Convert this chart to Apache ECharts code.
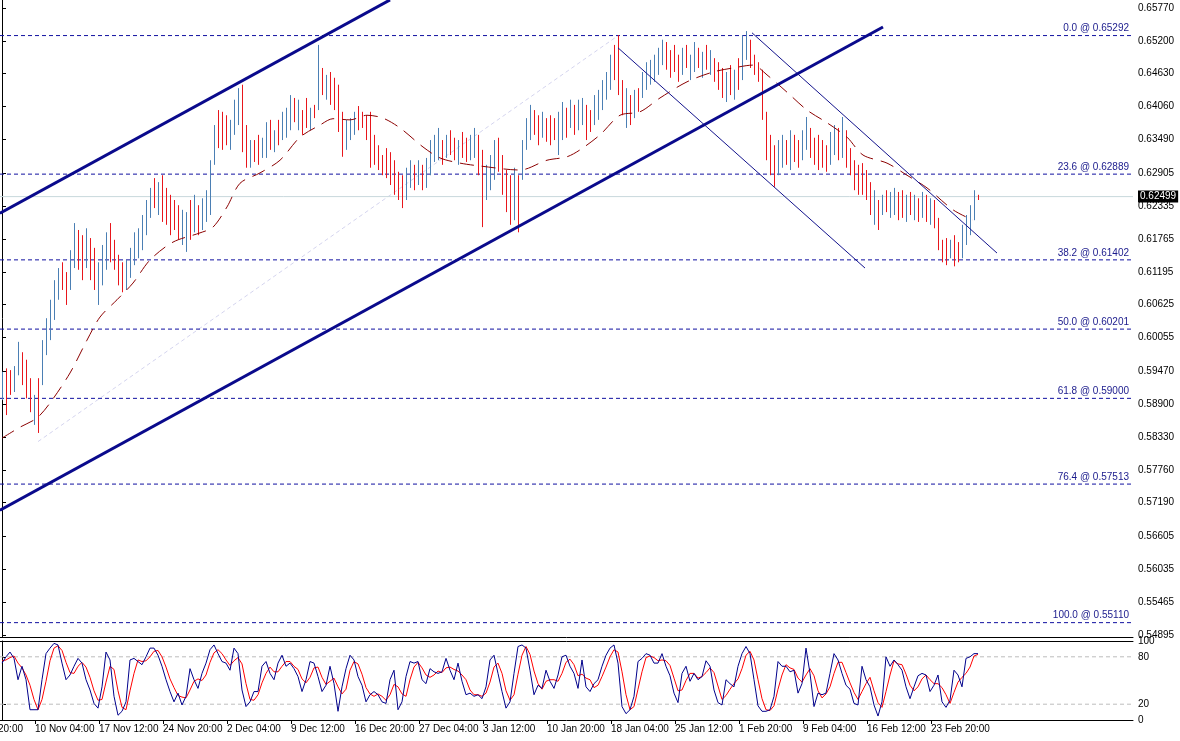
<!DOCTYPE html>
<html><head><meta charset="utf-8">
<script src="https://cdn.jsdelivr.net/npm/echarts@6/dist/echarts.min.js"></script>
<style>html,body{margin:0;padding:0;background:#fff}#c{width:1180px;height:741px}</style>
</head><body><div id="c"></div>
<script>
const highs=[.5946,.5952,.5949,.5956,.5998,.5980,.5967,.5935,.5906,.5935,
.6001,.6039,.6071,.6105,.6126,.6136,.6119,.6157,.6204,.6192,
.6183,.6195,.6178,.6161,.6136,.6166,.6188,.6204,.6175,.6149,
.6136,.6140,.6161,.6188,.6195,.6218,.6244,.6265,.6282,.6275,
.6287,.6265,.6253,.6244,.6235,.6227,.6223,.6244,.6253,.6235,
.6247,.6261,.6313,.6374,.6400,.6397,.6391,.6383,.6418,.6438,
.6444,.6374,.6348,.6348,.6357,.6352,.6379,.6383,.6365,.6383,
.6397,.6404,.6426,.6421,.6418,.6400,.6421,.6404,.6409,.6513,
.6473,.6461,.6466,.6456,.6444,.6397,.6383,.6386,.6397,.6407,
.6397,.6391,.6397,.6357,.6339,.6322,.6334,.6327,.6313,.6293,
.6287,.6300,.6313,.6305,.6313,.6305,.6317,.6348,.6357,.6369,
.6348,.6357,.6365,.6352,.6348,.6362,.6352,.6357,.6369,.6357,
.6331,.6305,.6322,.6348,.6352,.6322,.6296,.6287,.6300,.6287,
.6348,.6386,.6409,.6400,.6391,.6397,.6386,.6391,.6386,.6397,
.6414,.6404,.6418,.6409,.6418,.6421,.6409,.6400,.6426,.6435,
.6452,.6466,.6496,.6513,.6530,.6452,.6438,.6426,.6435,.6438,
.6466,.6483,.6487,.6496,.6508,.6522,.6518,.6504,.6513,.6496,
.6508,.6513,.6496,.6518,.6508,.6501,.6513,.6504,.6490,.6483,
.6473,.6466,.6478,.6470,.6490,.6530,.6537,.6522,.6496,.6483,
.6470,.6397,.6357,.6339,.6348,.6357,.6348,.6365,.6357,.6348,
.6365,.6388,.6369,.6352,.6357,.6348,.6339,.6362,.6374,.6369,
.6388,.6365,.6334,.6313,.6305,.6308,.6296,.6275,.6261,.6244,
.6253,.6261,.6258,.6265,.6258,.6261,.6253,.6258,.6253,.6247,
.6258,.6253,.6247,.6244,.6213,.6175,.6178,.6175,.6183,.6171,
.6201,.6218,.6235,.6261,.6253];
const lows=[.5897,.5871,.5906,.5911,.5940,.5923,.5900,.5876,.5854,.5840,
.5923,.5975,.6001,.6036,.6071,.6088,.6062,.6088,.6126,.6123,
.6105,.6126,.6105,.6088,.6062,.6096,.6123,.6136,.6123,.6096,
.6084,.6088,.6109,.6131,.6143,.6157,.6183,.6213,.6230,.6218,
.6206,.6201,.6183,.6192,.6175,.6166,.6154,.6175,.6188,.6183,
.6192,.6206,.6218,.6305,.6334,.6331,.6339,.6331,.6357,.6374,
.6327,.6300,.6300,.6310,.6305,.6317,.6317,.6331,.6327,.6339,
.6348,.6352,.6365,.6379,.6365,.6357,.6369,.6365,.6386,.6400,
.6426,.6418,.6409,.6400,.6362,.6319,.6331,.6348,.6357,.6365,
.6369,.6348,.6300,.6305,.6296,.6287,.6282,.6270,.6253,.6244,
.6230,.6244,.6265,.6261,.6270,.6261,.6265,.6287,.6310,.6313,
.6305,.6317,.6322,.6313,.6305,.6317,.6310,.6313,.6317,.6287,
.6197,.6244,.6261,.6279,.6293,.6253,.6223,.6201,.6209,.6188,
.6279,.6331,.6348,.6357,.6339,.6352,.6345,.6339,.6348,.6322,
.6348,.6352,.6369,.6357,.6365,.6374,.6348,.6362,.6374,.6383,
.6400,.6418,.6435,.6452,.6426,.6391,.6369,.6374,.6386,.6397,
.6421,.6435,.6444,.6449,.6461,.6478,.6470,.6456,.6466,.6449,
.6461,.6473,.6452,.6466,.6473,.6456,.6470,.6461,.6449,.6435,
.6421,.6414,.6426,.6418,.6435,.6452,.6487,.6473,.6461,.6449,
.6383,.6313,.6287,.6267,.6287,.6300,.6305,.6296,.6310,.6300,
.6313,.6331,.6317,.6305,.6296,.6300,.6293,.6305,.6322,.6313,
.6317,.6300,.6287,.6261,.6253,.6253,.6244,.6218,.6201,.6192,
.6218,.6223,.6213,.6218,.6209,.6213,.6206,.6218,.6209,.6206,
.6213,.6206,.6201,.6195,.6157,.6136,.6131,.6143,.6129,.6136,
.6143,.6166,.6183,.6209,.6244];
const dirs=("udduudddud"+"uuuuudduud"+"dudduuuddd"+"duuuuuuudu"+"ddddduudud"+
"uuuuddduuu"+"ddudduudud"+"uuududdudu"+"dudddduuud"+"dddddddddd"+
"duududuuuu"+"duddudduud"+"duuuddddud"+"uuuddudddu"+"ududuudduu"+
"uuudddudud"+"uuuuuudddd"+"uduudududd"+"dududuuddd"+"dddduududd"+
"uuddddduud"+"udddddddud"+"uduuddudud"+"ududdddudd"+"uuuud").split("");
const stochK=[72,80,86,78,51,68,51,13,13,13,51,84,91,97,95,72,51,57,68,78,
72,51,38,21,15,42,86,76,30,6,11,23,76,78,74,70,80,91,91,82,
68,51,36,23,34,19,30,65,51,40,59,72,89,95,84,74,72,63,91,84,
38,17,23,36,36,68,74,59,51,72,82,68,72,65,55,36,51,74,72,55,
36,44,68,46,11,42,65,82,76,55,44,23,32,36,32,23,21,51,63,13,
23,55,74,72,74,51,46,65,61,59,61,78,63,51,72,49,32,34,30,32,
27,42,76,82,59,36,15,23,59,93,95,91,63,32,44,40,63,49,40,57,
80,82,68,59,40,76,42,36,
46,51,68,82,91,95,72,17,8,13,30,74,78,84,82,72,72,84,68,56,
34,22,59,68,49,59,51,55,75,68,38,22,19,51,46,42,68,84,93,84,
51,18,11,11,13,30,74,68,68,61,63,34,46,91,59,17,34,32,34,59,
84,76,59,44,39,21,19,68,51,42,19,5,23,80,68,76,70,63,42,27,
42,56,59,57,36,44,57,23,16,25,63,57,42,78,80,84,84];
const stochD=[75,76,79,81,72,66,57,44,26,13,26,49,75,91,94,88,73,60,59,68,
73,67,54,37,25,26,48,68,64,37,16,13,37,59,76,74,75,80,87,88,
80,67,52,41,31,29,28,38,49,52,50,57,73,85,89,84,76,69,75,79,
71,46,26,25,32,47,59,67,61,61,68,74,74,68,64,52,47,54,66,67,
54,45,49,53,42,33,39,63,74,71,58,41,33,30,33,30,25,32,45,42,
33,30,51,67,73,66,57,54,57,62,60,66,67,64,62,57,51,38,32,32,
30,34,48,67,72,59,37,25,32,58,82,93,83,62,46,39,49,51,51,49,
59,73,77,70,56,58,53,51,41,44,55,67,80,89,86,61,32,13,17,39,
61,79,81,79,75,76,75,69,53,37,38,50,59,59,53,55,60,66,60,43,
26,31,39,46,52,65,82,87,76,51,27,13,12,18,39,57,70,66,64,53,
48,57,65,56,37,28,33,42,59,73,73,60,47,35,26,36,46,54,37,22,
16,36,57,75,71,70,58,44,37,42,52,57,51,46,46,41,32,21,35,48,
54,59,67,81,83];
const maIdx=[0,4.5,8.75,12,17,21.25,24.5,28.75,32.75,37,42.75,49.5,52.75,56.25,59.5,64.5,69.5,74.5,79.5,82.75,87,91.25,95.25,99.5,105.25,109.5,114.5,119.5,129.5,136.25,141.25,144.5,149.5,154.5,159.5,164.5,171.25,177.75,182.75,187.75,191.25,196.25,201.25,206.25,211.25,215.25,221.25,226.25,231.25,237.75,242.75];
const maVal=[.5831,.5850,.5866,.5892,.5944,.6001,.6041,.6071,.6100,.6140,.6171,.6187,.6197,.6232,.6273,.6291,.6313,.6353,.6374,.6385,.6383,.6391,.6386,.6369,.6336,.6317,.6308,.6303,.6296,.6313,.6319,.6331,.6357,.6391,.6397,.6421,.6449,.6466,.6473,.6478,.6461,.6431,.6400,.6378,.6353,.6322,.6308,.6287,.6265,.6227,.6209];
const priceTicks=["0.65770","0.65200","0.64630","0.64060","0.63490","0.62905","0.62335","0.61765","0.61195","0.60625","0.60055","0.59470","0.58900","0.58330","0.57760","0.57190","0.56605","0.56035","0.55465","0.54895"];
const stochTicks=[100,80,20,0];
const timeLabels=["10 Nov 04:00","17 Nov 12:00","24 Nov 20:00","2 Dec 04:00","9 Dec 12:00","16 Dec 20:00","27 Dec 04:00","3 Jan 12:00","10 Jan 20:00","18 Jan 04:00","25 Jan 12:00","1 Feb 20:00","9 Feb 04:00","16 Feb 12:00","23 Feb 20:00"];
const timeIdx=[8.25,24.25,40.25,56.25,72.25,88.25,104.25,120.25,136.25,152.25,168.25,184.25,200.25,216.25,232.25];
const fibPct=["0.0","23.6","38.2","50.0","61.8","76.4","100.0"];
const fibVal=[0.65292,0.62889,0.61402,0.60201,0.59000,0.57513,0.55110];
const lastPrice=0.62499;
const channelUpper=[-0.5,.6221,97,.6591];
const channelLower=[-0.5,.5706,220.25,.6544];
const downLine1=[154,.6508,215.75,.6126];
const downLine2=[187.5,.6534,248.75,.6152];
const fibTrend=[9,.5825,154,.6529];

const XMIN=-0.5, XMAX=282.75;
const FONT='Liberation Sans';
const bars=highs.map((h,i)=>[i,h,lows[i],dirs[i]==='u'?1:0]);
function seg(a,color,width,type,z){return {type:'line',xAxisIndex:0,yAxisIndex:0,data:[[a[0],a[1]],[a[2],a[3]]],symbol:'none',silent:true,z:z||3,lineStyle:{color:color,width:width,type:type||'solid'}};}
function hline(v,color,type,label,z){return {type:'line',xAxisIndex:0,yAxisIndex:0,data:[[XMIN,v],[XMAX,v]],symbol:'none',silent:true,z:z,lineStyle:{color:color,width:1,type:type},
  endLabel:label?Object.assign({show:true},label):{show:false}};}
const series=[seg(fibTrend,'#d4d4ee',1,[4,3],2)];
fibVal.forEach((v,k)=>series.push(hline(v,'#1010a0',[4,3],{formatter:fibPct[k]+' @ '+v.toFixed(5),offset:[-4,-7],align:'right',color:'#1a1a8c',fontFamily:FONT,fontSize:10,distance:0},2)));
series.push(hline(lastPrice,'#c8d8dc','solid',{formatter:lastPrice.toFixed(5),distance:5,backgroundColor:'#000',color:'#fff',fontFamily:FONT,fontSize:10,padding:[1,2]},2));
series.push({type:'custom',xAxisIndex:0,yAxisIndex:0,data:bars,z:4,silent:true,
   renderItem:(p,api)=>{const a=api.coord([api.value(0),api.value(1)]),b=api.coord([api.value(0),api.value(2)]);
    const x=Math.round(a[0])+0.5;
    return {type:'line',shape:{x1:x,y1:a[1],x2:x,y2:b[1]},style:{stroke:api.value(3)?'#4b7fb4':'#e8161c',lineWidth:1}};},
   encode:{x:0,y:[1,2]}});
series.push({type:'line',xAxisIndex:0,yAxisIndex:0,data:maIdx.map((x,i)=>[x,maVal[i]]),symbol:'none',silent:true,smooth:0.3,z:5,lineStyle:{color:'#8b0000',width:1,type:[14,8]}});
series.push(seg(channelUpper,'#0a0a8c',3,'solid',6),seg(channelLower,'#0a0a8c',3,'solid',6),seg(downLine1,'#12128c',1,'solid',6),seg(downLine2,'#12128c',1,'solid',6));
[80,20].forEach(v=>series.push({type:'line',xAxisIndex:1,yAxisIndex:1,data:[[XMIN,v],[XMAX,v]],symbol:'none',silent:true,z:2,lineStyle:{color:'#bdbdbd',width:1,type:[4,3]}}));
series.push({type:'line',xAxisIndex:1,yAxisIndex:1,data:stochD.map((v,i)=>[i,v]),symbol:'none',silent:true,z:3,lineStyle:{color:'#ff0000',width:1}});
series.push({type:'line',xAxisIndex:1,yAxisIndex:1,data:stochK.map((v,i)=>[i,v]),symbol:'none',silent:true,z:4,lineStyle:{color:'#00008b',width:1}});

const chart=echarts.init(document.getElementById('c'));
chart.setOption({
 animation:false,
 grid:[{left:0,right:47,top:0,height:637},{left:0,right:47,top:641,height:79}],
 xAxis:[
  {type:'value',gridIndex:0,min:XMIN,max:XMAX,axisLine:{show:true,onZero:false,lineStyle:{color:'#000'}},axisTick:{show:false},axisLabel:{show:false},splitLine:{show:false}},
  {type:'value',gridIndex:1,min:XMIN,max:XMAX,axisLine:{show:true,onZero:false,lineStyle:{color:'#000'}},
   axisTick:{show:true,customValues:timeIdx,length:4,lineStyle:{color:'#000'}},
   axisLabel:{customValues:timeIdx,align:'left',margin:4,fontFamily:FONT,fontSize:10,color:'#000',formatter:v=>{const k=timeIdx.indexOf(v);return k>=0?timeLabels[k]:'';}},splitLine:{show:false}},
  {type:'value',gridIndex:1,position:'top',min:XMIN,max:XMAX,axisLine:{show:true,onZero:false,lineStyle:{color:'#000'}},axisTick:{show:false},axisLabel:{show:false},splitLine:{show:false}}
 ],
 yAxis:[
  {type:'value',gridIndex:0,position:'right',min:0.54861,max:0.65909,axisLine:{show:true,lineStyle:{color:'#000'}},
   axisTick:{show:true,customValues:priceTicks.map(Number),length:4,lineStyle:{color:'#000'}},
   axisLabel:{customValues:priceTicks.map(Number),margin:5,fontFamily:FONT,fontSize:10,color:'#000',formatter:v=>v.toFixed(5)},splitLine:{show:false}},
  {type:'value',gridIndex:1,position:'right',min:0,max:100,axisLine:{show:true,lineStyle:{color:'#000'}},
   axisTick:{show:true,customValues:stochTicks,length:4,lineStyle:{color:'#000'}},
   axisLabel:{customValues:stochTicks,margin:5,fontFamily:FONT,fontSize:10,color:'#000'},splitLine:{show:false}}
 ],
 series:series,
 graphic:[{type:'text',left:-2,top:724,style:{text:'20:00',font:'10px Liberation Sans',fill:'#000'}}]
});
</script></body></html>
